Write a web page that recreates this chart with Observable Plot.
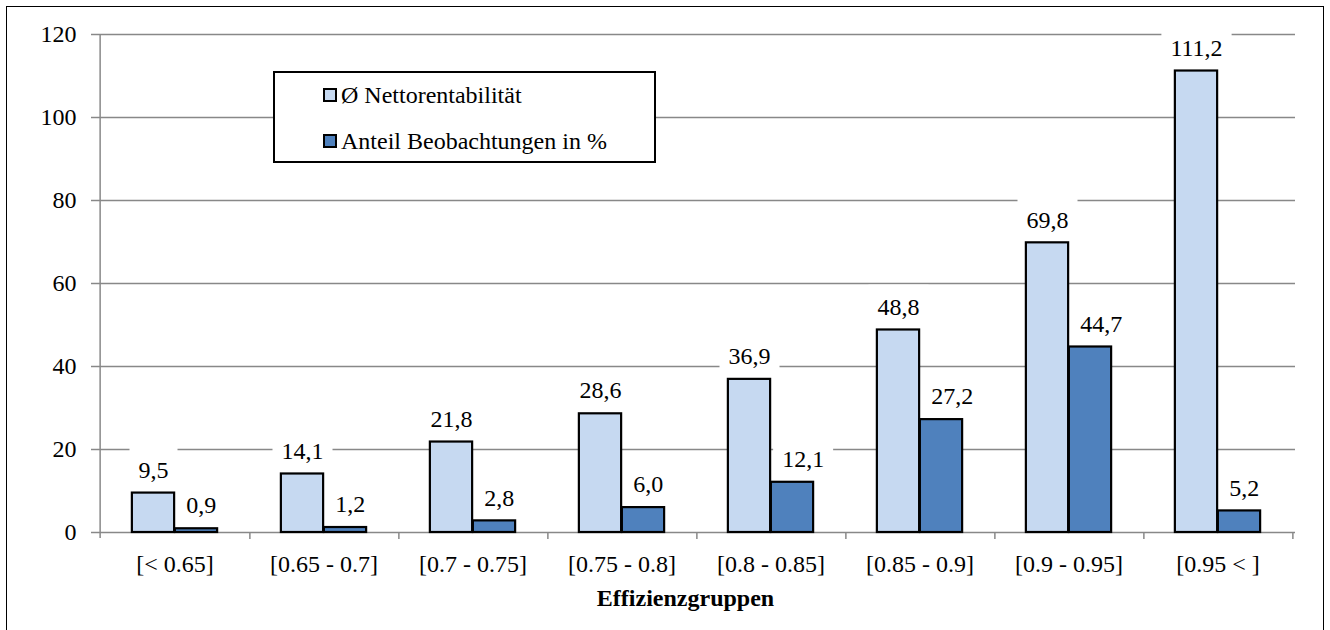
<!DOCTYPE html>
<html>
<head>
<meta charset="utf-8">
<script src="https://cdn.jsdelivr.net/npm/d3@7"></script>
<script src="https://cdn.jsdelivr.net/npm/@observablehq/plot@0.6"></script>
<style>
  html, body { margin: 0; padding: 0; background: #fff; }
  #wrap { position: relative; width: 1330px; height: 630px; overflow: hidden; font-family: "Liberation Serif", Tinos, "Times New Roman", serif; }
  #frame { position: absolute; left: 6px; top: 6px; width: 1318px; height: 700px; border: 1.5px solid #000; box-sizing: border-box; pointer-events: none; }
  #legend { position: absolute; left: 273px; top: 71px; width: 383px; height: 92px; border: 2px solid #000; box-sizing: border-box; background: #fff; }
  .item { position: absolute; left: 48px; display: flex; align-items: center; font-size: 24px; line-height: 24px; color: #000; white-space: nowrap; }
  .sw { width: 10px; height: 10px; border: 2px solid #000; margin-right: 4px; }
</style>
</head>
<body>
<div id="wrap">
  <div id="chart"></div>
  <div id="legend"></div>
  <div id="frame"></div>
</div>
<script>
const categories = ["[< 0.65]", "[0.65 - 0.7]", "[0.7 - 0.75]", "[0.75 - 0.8]", "[0.8 - 0.85]", "[0.85 - 0.9]", "[0.9 - 0.95]", "[0.95 < ]"];
const nettorentabilitaet = [9.5, 14.1, 21.8, 28.6, 36.9, 48.8, 69.8, 111.2];
const anteilBeobachtungen = [0.9, 1.2, 2.8, 6.0, 12.1, 27.2, 44.7, 5.2];
const seriesNames = ["Ø Nettorentabilität", "Anteil Beobachtungen in %"];
const seriesColors = ["#C6D9F1", "#4F81BD"];
const yTicks = [0, 20, 40, 60, 80, 100, 120];
const xTitle = "Effizienzgruppen";

const W = 1330, H = 630, ML = 97, MR = 35, MT = 34, MB = 98;
const step = (W - ML - MR) / categories.length;
const barW = 43;
const outer = (step - 2 * barW) / 2;
const FONT = 24;
const FF = '"Liberation Serif", Tinos, "Times New Roman", serif';

const light = categories.map((c, i) => ({cat: c, v: nettorentabilitaet[i]}));
const dark = categories.map((c, i) => ({cat: c, v: anteilBeobachtungen[i]}));
const fmt = v => v.toFixed(1).replace(".", ",");
const GRID = "#888888";

const chart = Plot.plot({
  width: W, height: H,
  marginLeft: ML, marginRight: MR, marginTop: MT, marginBottom: MB,
  style: {fontFamily: FF, fontSize: FONT + "px", color: "#000", background: "transparent"},
  x: {type: "band", domain: categories, padding: 0, label: null},
  y: {domain: [0, 120], label: null},
  marks: [
    Plot.ruleY(yTicks.slice(1), {stroke: GRID, strokeWidth: 1.5}),
    Plot.ruleY([0], {stroke: GRID, strokeWidth: 1.5}),
    Plot.ruleX([categories[0]], {dx: -step / 2, y1: 120, y2: 0, insetBottom: -6, stroke: GRID, strokeWidth: 1.5}),
    Plot.ruleX(categories, {dx: step / 2, y1: 0, y2: 0, insetBottom: -7, stroke: GRID, strokeWidth: 1.5}),
    Plot.axisY({ticks: yTicks, tickSize: 6, tickPadding: 15, stroke: GRID, strokeWidth: 1.5, tickFormat: d => String(d), fontSize: FONT, label: null}),
    Plot.axisX({tickSize: 0, tickPadding: 22, fontSize: FONT, label: null}),
    Plot.barY(light, {x: "cat", y: "v", fill: seriesColors[0], stroke: "#000", strokeWidth: 2.2, insetLeft: outer, insetRight: outer + barW, className: "lightbar"}),
    Plot.barY(dark, {x: "cat", y: "v", fill: seriesColors[1], stroke: "#000", strokeWidth: 2.2, insetLeft: outer + barW, insetRight: outer}),
    Plot.text(light, {x: "cat", y: "v", text: d => fmt(d.v), dx: -barW / 2, dy: -23, fontSize: FONT, fill: "#000", className: "lbl-light"}),
    Plot.text(dark, {x: "cat", y: "v", text: d => fmt(d.v), dx: barW / 2, dy: -23, fontSize: FONT, fill: "#000", className: "lbl-dark"}),
    Plot.text([xTitle], {frameAnchor: "bottom", dy: 73, dx: -11, fontSize: FONT, fontWeight: "bold", fill: "#000"})
  ]
});
document.getElementById("chart").appendChild(chart);

// Label collision: move a dark-bar label right when it would touch the taller light bar next to it
const lightRects = Array.from(chart.querySelectorAll("g.lightbar rect"));
const MIN_GAP = 12;
Array.from(chart.querySelectorAll("g.lbl-dark text")).forEach((t, i) => {
  const lr = lightRects[i];
  if (!lr) return;
  const lb = lr.getBoundingClientRect();
  const tb = t.getBoundingClientRect();
  if (lb.top < tb.bottom) {
    const shift = Math.max(0, lb.right + MIN_GAP - tb.left);
    if (shift > 0) t.setAttribute("x", +t.getAttribute("x") + shift);
  }
});

// white label boxes (data labels hide the gridlines behind them)
chart.querySelectorAll("g.lbl-light, g.lbl-dark").forEach(g => {
  g.querySelectorAll("text").forEach(t => {
    const b = t.getBBox();
    const tr = t.getAttribute("transform");
    const r = document.createElementNS("http://www.w3.org/2000/svg", "rect");
    r.setAttribute("x", b.x - 9);
    r.setAttribute("y", b.y - 9);
    r.setAttribute("width", b.width + 18);
    r.setAttribute("height", b.height + 9);
    r.setAttribute("fill", "#fff");
    if (tr) r.setAttribute("transform", tr);
    g.insertBefore(r, t);
  });
});

// legend
const leg = document.getElementById("legend");
seriesNames.forEach((name, i) => {
  const it = document.createElement("div");
  it.className = "item";
  it.style.top = (i === 0 ? 10 : 56) + "px";
  const sw = document.createElement("div");
  sw.className = "sw";
  sw.style.background = seriesColors[i];
  const tx = document.createElement("span");
  tx.textContent = name;
  it.appendChild(sw);
  it.appendChild(tx);
  leg.appendChild(it);
});
</script>
</body>
</html>
